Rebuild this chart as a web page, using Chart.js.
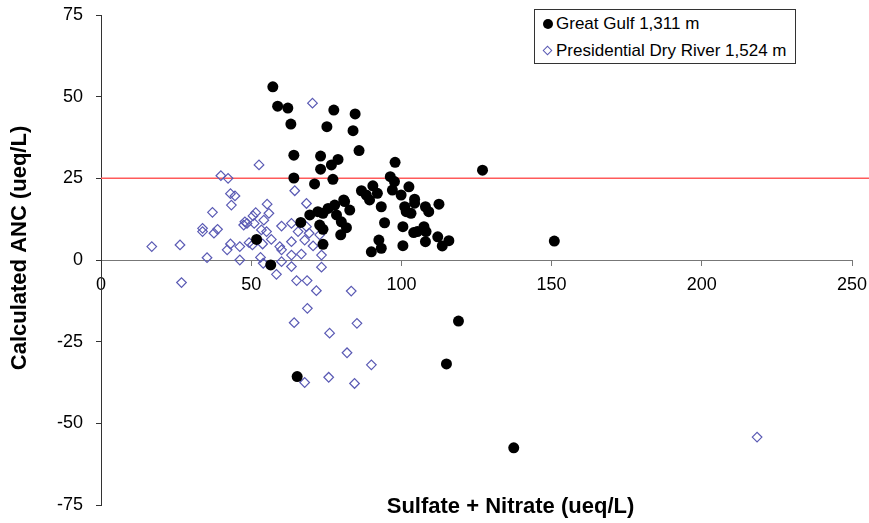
<!DOCTYPE html>
<html>
<head>
<meta charset="utf-8">
<script src="https://cdn.jsdelivr.net/npm/chart.js@4.4.0/dist/chart.umd.min.js"></script>
<style>
  html, body { margin: 0; padding: 0; background: #fff; overflow: hidden; }
  #wrap { position: relative; width: 869px; height: 523px; }
  #legend {
    position: absolute; left: 534px; top: 9px; width: 262px; height: 55px;
    border: 1px solid #333; background: #fff; box-sizing: border-box;
    font-family: "Liberation Sans", Arial, sans-serif; font-size: 17px; color: #000;
  }
  .row { position: absolute; left: 0; height: 20px; line-height: 20px; white-space: nowrap; }
  .row span.t { position: absolute; left: 21px; top: 0; }
  .dot { position: absolute; left: 8px; top: 5px; width: 10px; height: 10px; border-radius: 50%; background: #000; }
  .dia { position: absolute; left: 9px; top: 6px; width: 7px; height: 7px; border: 1.2px solid #5a5ab4; transform: rotate(45deg); box-sizing: border-box; }
</style>
</head>
<body>
<div id="wrap">
  <canvas id="c" width="869" height="523"></canvas>
  <div id="legend">
    <div class="row" style="top:4px;"><div class="dot"></div><span class="t" id="lg0"></span></div>
    <div class="row" style="top:31px;"><div class="dia"></div><span class="t" id="lg1"></span></div>
  </div>
</div>
<script>
// ---------- data ----------
const seriesNames = ['Great Gulf 1,311 m', 'Presidential Dry River 1,524 m'];
const xTitle = 'Sulfate + Nitrate (ueq/L)';
const yTitle = 'Calculated ANC (ueq/L)';
const xTicks = [0, 50, 100, 150, 200, 250];
const yTicks = [-75, -50, -25, 0, 25, 50, 75];

// Great Gulf: Sulfate + Nitrate (x) and Calculated ANC (y)
const ggSum = [57.2, 58.8, 62.2, 63.2, 64.2, 64.2, 71.1, 77.5, 84.6, 75.2, 83.9, 85.9, 73.1, 78.9, 73.1, 76.7, 77.2,
  97.9, 96.3, 97.7, 102.5, 86.7, 90.5, 92.0, 97.0, 99.9, 104.4, 80.8, 88.3, 89.4, 93.3, 81.1, 82.8, 77.8, 75.6,
  72.2, 73.9, 69.5, 66.5, 78.4, 80.0, 81.7, 72.8, 73.9, 79.8, 73.9, 101.1, 101.6, 103.2, 104.4, 108.0, 109.1,
  112.5, 94.4, 100.5, 104.1, 105.3, 107.5, 108.2, 112.1, 108.0, 115.8, 113.6, 92.5, 93.3, 90.0, 100.5, 56.5,
  51.8, 127.0, 150.9, 119.0, 115.0, 137.4, 65.3];
const ggAnc = [53.0, 47.1, 46.5, 41.6, 32.1, 25.1, 23.3, 45.9, 44.7, 40.8, 39.6, 33.5, 31.8, 30.8, 27.8, 29.1, 24.7,
  29.9, 25.5, 24.0, 22.4, 21.2, 22.7, 20.4, 21.4, 19.9, 18.6, 18.4, 19.9, 18.4, 16.3, 17.9, 15.3, 16.8, 15.8,
  14.8, 14.3, 13.8, 11.5, 13.8, 11.7, 9.9, 10.7, 9.4, 7.7, 4.8, 16.3, 14.8, 14.3, 17.4, 16.3, 14.8,
  17.1, 11.4, 10.2, 8.4, 8.7, 10.2, 8.7, 7.1, 5.6, 5.9, 4.3, 6.1, 3.6, 2.5, 4.4, -1.5,
  6.3, 27.5, 5.8, -18.7, -31.8, -57.5, -35.7];

// Presidential Dry River
const pdrSum = [52.6, 39.9, 42.3, 43.1, 44.6, 43.4, 37.1, 33.8, 33.8, 37.6, 38.8, 16.9, 26.3, 35.3, 26.8, 43.1,
  42.0, 46.2, 46.2, 55.3, 55.9, 51.5, 50.6, 47.9, 47.5, 48.6, 51.0, 54.2, 53.4, 55.1, 60.1, 56.7, 53.8, 49.3,
  50.4, 59.5, 60.1, 53.1, 54.0, 60.1, 58.4, 64.5, 68.4, 63.4, 65.6, 68.4, 69.3, 67.8, 70.6, 72.8, 63.4, 66.7,
  63.4, 63.4, 73.4, 73.4, 65.1, 68.6, 71.7, 83.3, 68.7, 64.3, 85.2, 76.1, 81.9, 90.0, 75.8, 67.8, 84.4, 218.4, 70.4];
const pdrAnc = [29.1, 25.8, 25.0, 20.3, 19.6, 16.8, 14.6, 9.7, 8.7, 8.2, 9.4, 4.1, 4.6, 0.7, -6.9, 4.9,
  3.1, 4.1, 0.0, 17.1, 14.3, 14.5, 13.5, 11.7, 10.7, 11.2, 11.2, 12.2, 9.2, 8.7, 10.4, 6.3, 4.9, 5.3,
  4.6, 4.1, 3.1, 0.8, -1.0, -0.5, -4.4, 21.2, 17.3, 11.2, 8.7, 10.2, 8.2, 6.1, 4.3, 7.7, 5.6, 1.8,
  1.5, -2.0, 1.5, -2.2, -6.3, -6.3, -9.4, -9.5, -14.8, -19.2, -19.4, -22.4, -28.4, -32.1, -35.9, -37.5, -37.8, -54.2, 48.0];

// Reference ANC level line
const refSum = [0, 256];
const refAnc = [25, 25];

// ---------- chart ----------
const FONT = '"Liberation Sans", Arial, sans-serif';
const toPts = (xs, ys) => xs.map((x, i) => ({ x: x, y: ys[i] }));

document.getElementById('lg0').textContent = seriesNames[0];
document.getElementById('lg1').textContent = seriesNames[1];

const titlePlugin = {
  id: 'axisTitles',
  afterDraw(chart) {
    const c = chart.ctx;
    const a = chart.chartArea;
    c.save();
    c.fillStyle = '#000';
    c.font = 'bold 22px ' + FONT;
    c.textAlign = 'center';
    c.textBaseline = 'middle';
    c.fillText(xTitle, (a.left + a.right) / 2 + 34, a.bottom + 2);
    c.translate(20, (a.top + a.bottom) / 2 - 12);
    c.rotate(-Math.PI / 2);
    c.fillText(yTitle, 0, 0);
    c.restore();
  }
};

new Chart(document.getElementById('c'), {
  type: 'scatter',
  data: {
    datasets: [
      {
        label: seriesNames[0],
        data: toPts(ggSum, ggAnc),
        pointStyle: 'circle',
        pointRadius: 5.5,
        pointBackgroundColor: '#000',
        pointBorderColor: '#000',
        pointBorderWidth: 0,
        order: 1
      },
      {
        label: seriesNames[1],
        data: toPts(pdrSum, pdrAnc),
        pointStyle: 'rectRot',
        pointRadius: 4.8,
        pointBackgroundColor: 'rgba(255,255,255,0)',
        pointBorderColor: '#5a5ab4',
        pointBorderWidth: 1.2,
        order: 2
      },
      {
        type: 'line',
        label: 'ANC 25',
        data: toPts(refSum, refAnc),
        borderColor: '#ff5a5a',
        borderWidth: 1.5,
        pointRadius: 0,
        clip: false,
        order: 3
      }
    ]
  },
  options: {
    responsive: false,
    animation: false,
    devicePixelRatio: 1,
    layout: { autoPadding: false, padding: { left: 6, right: 17, top: 15, bottom: 18 } },
    plugins: { legend: { display: false }, tooltip: { enabled: false } },
    scales: {
      x: {
        type: 'linear',
        position: { y: 0 },
        min: 0, max: 250,
        afterBuildTicks: s => { s.ticks = xTicks.map(v => ({ value: v })); },
        afterFit: s => { s.paddingLeft = s.paddingRight = s.paddingTop = s.paddingBottom = 0; },
        grid: { drawOnChartArea: false, drawTicks: true, tickLength: 5, color: '#777' },
        border: { color: '#777', width: 1 },
        ticks: { font: { family: FONT, size: 18 }, color: '#000', padding: 9, maxRotation: 0, autoSkip: false }
      },
      y: {
        type: 'linear',
        min: -75, max: 75,
        afterBuildTicks: s => { s.ticks = yTicks.map(v => ({ value: v })); },
        afterFit: s => { s.width = 95; s.paddingTop = s.paddingBottom = 0; },
        grid: { drawOnChartArea: false, drawTicks: true, tickLength: 5, color: '#333' },
        border: { color: '#333', width: 1 },
        ticks: { font: { family: FONT, size: 18 }, color: '#000', padding: 13, autoSkip: false }
      }
    }
  },
  plugins: [titlePlugin]
});
</script>
</body>
</html>
